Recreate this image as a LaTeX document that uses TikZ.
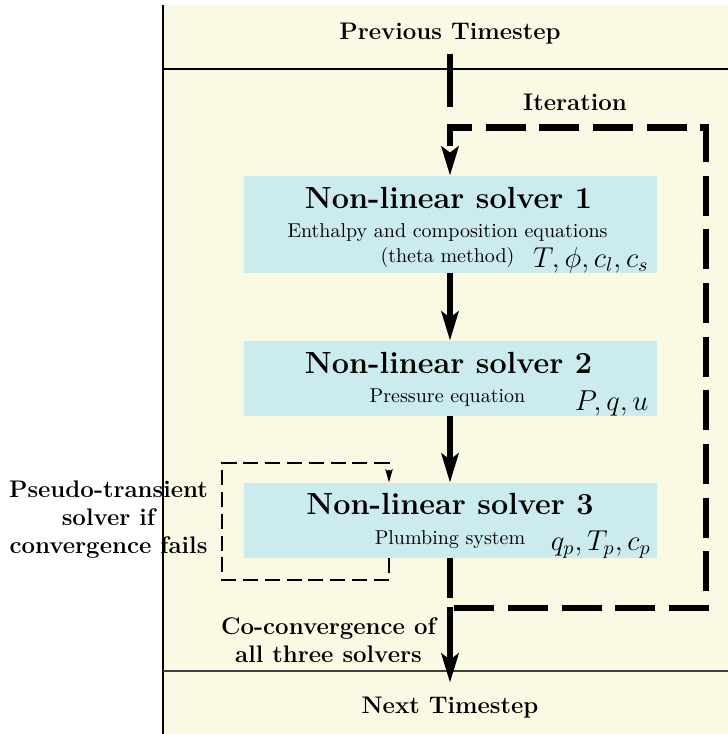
\documentclass[tikz,border=0pt]{standalone}
\usetikzlibrary{arrows.meta}
\definecolor{panelbg}{RGB}{250,250,228}
\definecolor{solverbg}{RGB}{204,235,239}
\begin{document}
\begin{tikzpicture}[x=0.5pt,y=-0.5pt,
		solver/.style={fill=solverbg,minimum width=206.5pt,inner sep=0pt},
		head/.style={anchor=base,inner sep=0pt,font=\fontsize{15.3}{18}\selectfont\bfseries},
		sub/.style={anchor=base,inner sep=0pt,font=\normalsize},
		vars/.style={anchor=base east,inner sep=0pt,font=\Large},
		lbl/.style={font=\large\bfseries},
		flow/.style={line width=3.3pt,-{Stealth[length=14.5pt,width=8.5pt,inset=3pt]}},
		iter/.style={line width=3.2pt,dash pattern=on 20pt off 6.85pt,-{Stealth[length=14.5pt,width=8.5pt,inset=3pt]}},
		retry/.style={line width=1.4pt,dash pattern=on 7.5pt off 3.4pt,-{Stealth[length=6.5pt,width=3.5pt,inset=1pt]}}]
	\useasboundingbox (0,0) rectangle (728,734);
	% panel
	\fill[panelbg] (163,5) rectangle (728,734);
	\draw[line width=0.6pt] (163,5) -- (163,734);
	\draw[line width=0.6pt] (163,69) -- (728,69);
	\draw[line width=0.6pt,black!75] (163,671) -- (728,671);
	% timesteps
	\node[lbl,anchor=base,inner sep=4.5pt] (prev) at (450,39.5) {Previous Timestep};
	\node[lbl,anchor=base,inner sep=6.7pt] (next) at (450,713) {Next Timestep};
	\node[lbl,anchor=base,inner sep=0pt] (iterlbl) at (575,110.5) {Iteration};
	% solvers
	\node[solver,minimum height=48.5pt] (s1) at (450,224.5) {};
	\node[head] (t1) at (448.5,208) {Non-linear solver 1};
	\node[sub] (d1a) at (447.5,237) {Enthalpy and composition equations};
	\node[sub] (d1b) at (447.5,262) {(theta method)};
	\node[vars] (v1) at (649,267) {$T, \phi, c_l, c_s$};
	\node[solver,minimum height=37.5pt] (s2) at (450,378.5) {};
	\node[head] (t2) at (448.5,373) {Non-linear solver 2};
	\node[sub] (d2) at (447.5,402) {Pressure equation};
	\node[vars] (v2) at (649,410.5) {$P, q, u$};
	\node[solver,minimum height=37.5pt] (s3) at (450,520.5) {};
	\node[head] (t3) at (450,514) {Non-linear solver 3};
	\node[sub] (d3) at (450,544) {Plumbing system};
	\node[vars] (v3) at (651,550) {$q_p, T_p, c_p$};
	% side labels
	\node[lbl,align=center] (pseudo) at (108.5,520) {Pseudo-transient\\solver if\\convergence fails};
	\node[lbl,align=center] (coconv) at (328.5,640) {Co-convergence of\\all three solvers};
	% connectors
	\coordinate (entry) at (450,107);
	\coordinate (loopbr) at (706,608);
	\coordinate (looptl) at (450,127.5);
	\coordinate (exit) at (450,607);
	\coordinate (retrybl) at (222,580);
	\coordinate (retrytr) at (389,463);
	\draw[line width=3.3pt] (prev.south) -- (entry);
	\draw[flow] (s1) -- (s2);
	\draw[flow] (s2) -- (s3);
	\draw[iter] (s3.south) |- (loopbr) |- (looptl) -- (s1.north);
	\draw[flow] (exit) -- (next);
	\draw[retry] (s3.south -| retrytr) |- (retrybl) |- (retrytr) -- (s3.north -| retrytr);
\end{tikzpicture}
\end{document}
